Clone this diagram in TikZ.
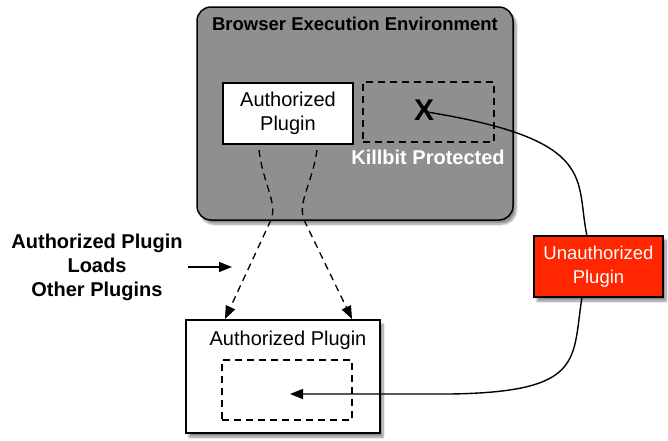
\documentclass[tikz,border=0pt]{standalone}
\usepackage{fontspec}
\setmainfont{Liberation Sans}
\usetikzlibrary{arrows.meta,shadows.blur}
\definecolor{alertred}{RGB}{255,38,0}
\begin{document}
\begin{tikzpicture}[x=1pt,y=-1pt,
  every node/.style={inner sep=0pt,outer sep=0pt},
  body/.style={font=\fontsize{20}{24}\selectfont,align=center},
  bodybold/.style={font=\fontsize{20}{24}\selectfont\bfseries,align=center},
  boxline/.style={draw=black,line width=1.5pt},
  shade/.style={blur shadow={shadow xshift=3pt,shadow yshift=-4pt,shadow blur steps=8,shadow opacity=45}},
  dashline/.style={dash pattern=on 7pt off 5pt,line width=1.3pt},
  tip/.style={-{Triangle[length=13pt,width=10pt]}},
  conn/.style={line width=1.4pt}]
\useasboundingbox (0,0) rectangle (668,440);

% browser environment
\node[boxline,shade,fill=black!44,rounded corners=14pt,minimum width=316pt,minimum height=213pt] (env) at (355,113.5) {};
\node[font=\fontsize{18.5}{22}\selectfont\bfseries] (title) at (355,24) {Browser Execution Environment};
\node[boxline,fill=white,minimum width=130pt,minimum height=61pt,body] (ap1) at (288,113.5) {Authorized\\Plugin};
\node[draw,dashline,minimum width=131pt,minimum height=60pt] (kb) at (428.5,112) {};
\node[font=\fontsize{30}{30}\selectfont\bfseries] (x) at (424,110) {X};
\node[bodybold,text=white] (kbl) at (428,157) {Killbit Protected};

% loaded plugin
\node[boxline,shade,fill=white,minimum width=194pt,minimum height=113pt] (ap2) at (283,376.5) {};
\node[body] (ap2l) at (288,340) {Authorized Plugin};
\node[draw,dashline,minimum width=130pt,minimum height=60pt] (inner) at (287,390) {};

% unauthorized plugin
\node[boxline,shade,fill=alertred,minimum width=129pt,minimum height=61pt,text=white,font=\fontsize{18.5}{24}\selectfont,align=center] (bad) at (598.5,266.5) {Unauthorized\\Plugin};

% side note
\node[bodybold] (note) at (97,267) {Authorized Plugin\\Loads\\Other Plugins};
\coordinate (notetip) at (232,267);
\draw[conn,tip] (188,267) -- (notetip);

% loading paths
\coordinate (la) at (259,150);
\coordinate (lb) at (317,150);
\coordinate (lm) at (270,222);
\coordinate (rm) at (305,222);
\coordinate (le) at (225,319);
\coordinate (re) at (352,319);
\draw[dashline,tip] (la) .. controls (263,185) and (279,204) .. (lm) -- (le);
\draw[dashline,tip] (lb) .. controls (312,185) and (296,204) .. (rm) -- (re);

% blocked and bypass path
\coordinate (xs) at (427,112);
\coordinate (bt) at (587,236);
\coordinate (bb) at (582,297);
\coordinate (bend) at (450,394);
\coordinate (itip) at (290,394);
\draw[conn] (xs) .. controls (600,140) and (575,180) .. (bt);
\draw[conn,tip] (bb) .. controls (572,360) and (585,392) .. (bend) -- (itip);
\end{tikzpicture}
\end{document}
